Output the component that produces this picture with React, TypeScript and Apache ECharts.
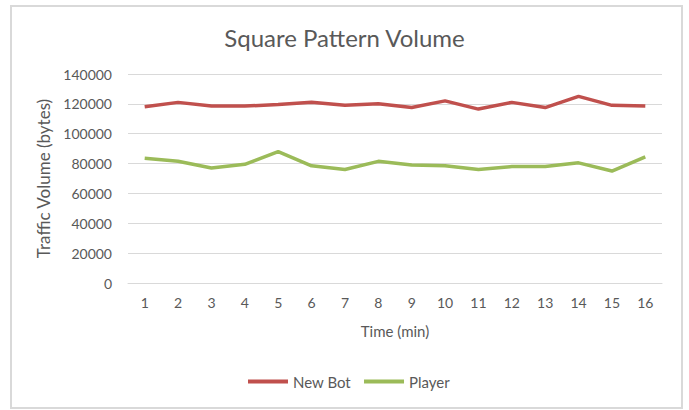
import React, { useEffect, useRef } from "react";
import * as echarts from "echarts";

const categories = ["1", "2", "3", "4", "5", "6", "7", "8", "9", "10", "11", "12", "13", "14", "15", "16"];
const newBot = [118000, 121000, 118500, 118500, 119500, 121000, 119000, 120000, 117500, 122000, 116500, 121000, 117500, 125000, 119000, 118500];
const player = [83500, 81500, 77000, 79500, 88000, 78500, 76000, 81500, 79000, 78500, 76000, 78000, 78000, 80500, 75000, 84500];
const title = "Square Pattern Volume";
const xName = "Time (min)";
const yName = "Traffic Volume (bytes)";

const FONT = "Lato, 'Open Sans', sans-serif";
const TEXT = "#595959";

export default function App() {
  const ref = useRef<HTMLDivElement>(null);
  useEffect(() => {
    if (!ref.current) return;
    const chart = echarts.init(ref.current, undefined, { renderer: "svg" });
    chart.setOption({
      animation: false,
      backgroundColor: "#ffffff",
      textStyle: { fontFamily: FONT },
      graphic: [
        {
          type: "rect",
          shape: { x: 11, y: 6, width: 671, height: 402 },
          style: { fill: "none", stroke: "#d9d9d9", lineWidth: 2 },
          silent: true,
        },
      ],
      title: {
        text: title,
        left: "center",
        top: 20,
        textStyle: { fontFamily: FONT, fontSize: 24, fontWeight: "normal", color: TEXT },
      },
      legend: {
        bottom: 16,
        left: 243,
        icon: "rect",
        itemWidth: 40,
        itemHeight: 4,
        itemGap: 13,
        textStyle: { fontFamily: FONT, fontSize: 15, color: TEXT },
        data: ["New Bot", "Player"],
      },
      grid: { left: 128, right: 27, top: 74, bottom: 127 },
      xAxis: {
        type: "category",
        data: categories,
        boundaryGap: true,
        name: xName,
        nameLocation: "middle",
        nameGap: 40,
        nameTextStyle: { fontFamily: FONT, fontSize: 15, color: TEXT },
        axisLine: { show: true, lineStyle: { color: "#d9d9d9" } },
        axisTick: { show: false },
        axisLabel: { fontFamily: FONT, fontSize: 14, color: TEXT, margin: 12 },
      },
      yAxis: {
        type: "value",
        min: 0,
        max: 140000,
        interval: 20000,
        name: yName,
        nameLocation: "middle",
        nameGap: 72,
        nameTextStyle: { fontFamily: FONT, fontSize: 17, color: TEXT },
        axisLine: { show: false },
        axisTick: { show: false },
        axisLabel: {
          fontFamily: FONT,
          fontSize: 14,
          color: TEXT,
          margin: 16,
          formatter: (v: number) => String(v),
        },
        splitLine: { lineStyle: { color: "#d9d9d9", width: 1 } },
      },
      series: [
        {
          name: "New Bot",
          type: "line",
          data: newBot,
          symbol: "none",
          lineStyle: { color: "#C0504D", width: 3.5 },
          itemStyle: { color: "#C0504D" },
        },
        {
          name: "Player",
          type: "line",
          data: player,
          symbol: "none",
          lineStyle: { color: "#9BBB59", width: 3.5 },
          itemStyle: { color: "#9BBB59" },
        },
      ],
    });
    return () => chart.dispose();
  }, []);
  return (
    <div
      ref={ref}
      style={{ position: "fixed", left: 0, top: 0, width: 689, height: 410 }}
    />
  );
}
